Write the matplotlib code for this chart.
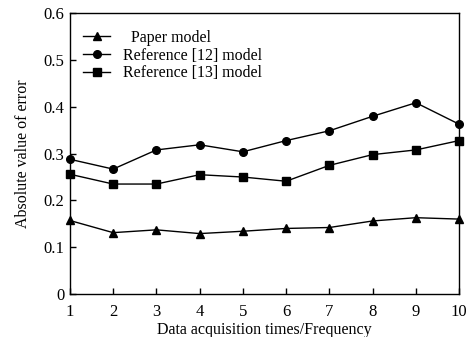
import matplotlib
matplotlib.use("Agg")
import matplotlib.pyplot as plt

plt.rcParams['font.family'] = ['Liberation Serif', 'DejaVu Serif']

# data
times = [1, 2, 3, 4, 5, 6, 7, 8, 9, 10]
paper_model = [0.157, 0.131, 0.137, 0.129, 0.134, 0.140, 0.142, 0.156, 0.163, 0.160]
ref12_model = [0.288, 0.267, 0.308, 0.319, 0.304, 0.328, 0.349, 0.380, 0.409, 0.363]
ref13_model = [0.256, 0.235, 0.235, 0.255, 0.250, 0.241, 0.275, 0.298, 0.308, 0.328]
labels = ["  Paper model", "Reference [12] model", "Reference [13] model"]

fig = plt.figure(figsize=(4.69, 3.37), dpi=100)
ax = fig.add_axes([0.149, 0.128, 0.830, 0.832])

ax.plot(times, paper_model, color='black', lw=1, marker='^', ms=6, clip_on=False, label=labels[0])
ax.plot(times, ref12_model, color='black', lw=1, marker='o', ms=5.5, clip_on=False, label=labels[1])
ax.plot(times, ref13_model, color='black', lw=1, marker='s', ms=5.5, clip_on=False, label=labels[2])

ax.set_xlim(1, 10)
ax.set_ylim(0, 0.6)
ax.set_xticks(times)
ax.set_yticks([0, 0.1, 0.2, 0.3, 0.4, 0.5, 0.6])
ax.set_yticklabels(['0', '0.1', '0.2', '0.3', '0.4', '0.5', '0.6'])
ax.tick_params(direction='in', length=4, width=1, labelsize=12, top=False, right=False)
ax.tick_params(axis='x', pad=7)
ax.tick_params(axis='y', pad=4)
for s in ax.spines.values():
    s.set_linewidth(1)

ax.set_xlabel("Data acquisition times/Frequency", fontsize=11.5, labelpad=2)
ax.set_ylabel("Absolute value of error", fontsize=11.5, labelpad=9)

ax.legend(loc='upper left', frameon=False, fontsize=11.4, handlelength=1.7,
          labelspacing=0.1, borderaxespad=0.2, handletextpad=0.8,
          bbox_to_anchor=(0.01, 0.975))

fig.savefig("out.png", dpi=100)
